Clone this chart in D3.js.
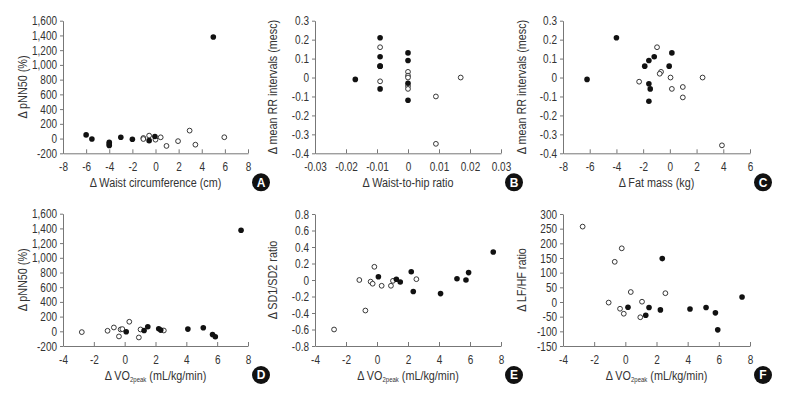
<!DOCTYPE html>
<html>
<head>
<meta charset="utf-8">
<script src="https://cdn.jsdelivr.net/npm/d3@7"></script>
<style>
  html, body { margin: 0; padding: 0; background: #fff; }
  svg text { font-family: "Liberation Sans", Arial, sans-serif; }
</style>
</head>
<body>
<svg id="chart" width="797" height="394"></svg>
<script>
// ---- data ----
// A: waist circumference (cm) vs pNN50 (%)
const waistFilled = [[-6, 50], [-5.5, -5], [-4, -50], [-4, -75], [-4, -95], [-3, 17], [-2, -10], [-0.55, -28], [-0.05, 28], [5, 1378]]
const waistOpen = [[-1.05, 8], [-1.05, -6], [-0.55, 40], [0, -15], [0.45, 17], [0.95, -100], [1.95, -35], [2.95, 108], [3.45, -83], [5.95, 18]]
// B: waist-to-hip ratio vs mean RR intervals
const whrFilled = [[-0.017, -0.01], [-0.009, 0.21], [-0.009, 0.11], [-0.009, 0.06], [-0.009, 0.06], [-0.009, -0.06], [0, 0.13], [0, 0.09], [0, -0.03], [0, -0.12]]
const whrOpen = [[-0.009, 0.16], [-0.009, -0.02], [0, 0.03], [0, 0.01], [0, 0.0], [0, -0.045], [0, -0.06], [0.009, -0.10], [0.009, -0.35], [0.017, 0.0]]
// C: fat mass (kg) vs mean RR intervals
const fatFilled = [[-6.2, -0.01], [-4.0, 0.21], [0.15, 0.13], [-1.17, 0.11], [-1.57, 0.09], [-1.88, 0.06], [-0.05, 0.06], [-1.57, -0.033], [-1.47, -0.06], [-1.57, -0.125]]
const fatOpen = [[-0.96, 0.16], [-0.66, 0.03], [-0.76, 0.02], [-2.3, -0.022], [0.05, 0.0], [0.15, -0.06], [0.97, -0.05], [0.97, -0.105], [2.45, 0.0], [3.9, -0.358]]
// D: VO2peak vs pNN50 (%)
const vo2pnnFilled = [[0.1, -7], [1.26, 11], [1.5, 61], [2.21, 34], [2.34, 16], [4.1, 30], [5.1, 48], [5.7, -43], [5.88, -75], [7.55, 1375]]
const vo2pnnOpen = [[-2.78, -11], [-1.11, 7], [-0.7, 52], [-0.37, -70], [-0.26, 25], [-0.15, 30], [0.3, 130], [0.92, -84], [1.03, 25], [2.54, 11]]
// E: VO2peak vs SD1/SD2 ratio
const vo2sdFilled = [[0.09, 0.04], [1.25, 0.01], [1.5, -0.025], [2.21, 0.10], [2.34, -0.14], [4.1, -0.165], [5.16, 0.016], [5.74, 0.0], [5.91, 0.09], [7.5, 0.34]]
const vo2sdOpen = [[-2.77, -0.6], [-1.14, 0.0], [-0.75, -0.37], [-0.41, -0.02], [-0.28, -0.045], [-0.17, 0.16], [0.3, -0.07], [0.9, -0.07], [1.03, -0.01], [2.54, 0.01]]
// F: VO2peak vs LF/HF ratio
const vo2lfFilled = [[0.17, -18], [1.31, -45], [1.52, -19], [2.25, -27], [2.37, 148], [4.15, -24], [5.18, -19], [5.78, -37], [5.93, -95], [7.49, 17]]
const vo2lfOpen = [[-2.74, 257], [-1.07, -2], [-0.68, 137], [-0.34, -23], [-0.23, 183], [-0.1, -40], [0.35, 34], [0.96, -52], [1.07, 1], [2.57, 30]]

// ---- panel layout ----
const fmt = (d) => d3.format(',')(d).replace('\u2212', '-')
const fmtDec = (d) => String(+d.toFixed(2))

const panels = [
  { letter: 'A', filled: waistFilled, open: waistOpen, xDomain: [-8, 8], xStep: 2, yDomain: [-200, 1600], yStep: 200,
    xRange: [63, 248], yRange: [153.3, 20.7], xFmt: fmt, yFmt: fmt, xLabel: '\u0394 Waist circumference (cm)', yLabel: '\u0394 pNN50 (%)', yLabelX: 27 },
  { letter: 'B', filled: whrFilled, open: whrOpen, xDomain: [-0.03, 0.03], xStep: 0.01, yDomain: [-0.4, 0.3], yStep: 0.1,
    xRange: [315, 501], yRange: [153.3, 20.7], xFmt: fmtDec, yFmt: fmtDec, xLabel: '\u0394 Waist-to-hip ratio', yLabel: '\u0394 mean RR intervals (mesc)', yLabelX: 277 },
  { letter: 'C', filled: fatFilled, open: fatOpen, xDomain: [-8, 6], xStep: 2, yDomain: [-0.4, 0.3], yStep: 0.1,
    xRange: [563, 750], yRange: [153.3, 20.7], xFmt: fmt, yFmt: fmtDec, xLabel: '\u0394 Fat mass (kg)', yLabel: '\u0394 mean RR intervals (mesc)', yLabelX: 526 },
  { letter: 'D', filled: vo2pnnFilled, open: vo2pnnOpen, xDomain: [-4, 8], xStep: 2, yDomain: [-200, 1600], yStep: 200,
    xRange: [63, 248], yRange: [346, 213.7], xFmt: fmt, yFmt: fmt, xLabel: 'vo2', yLabel: '\u0394 pNN50 (%)', yLabelX: 27 },
  { letter: 'E', filled: vo2sdFilled, open: vo2sdOpen, xDomain: [-4, 8], xStep: 2, yDomain: [-0.8, 0.8], yStep: 0.2,
    xRange: [315, 501], yRange: [346, 214], xFmt: fmt, yFmt: fmtDec, xLabel: 'vo2', yLabel: '\u0394 SD1/SD2 ratio', yLabelX: 277 },
  { letter: 'F', filled: vo2lfFilled, open: vo2lfOpen, xDomain: [-4, 8], xStep: 2, yDomain: [-150, 300], yStep: 50,
    xRange: [563, 750], yRange: [346, 214], xFmt: fmt, yFmt: fmt, xLabel: 'vo2', yLabel: '\u0394 LF/HF ratio', yLabelX: 526 },
]

const svg = d3.select('#chart')
const textColor = '#333'
const axisColor = '#777'
// the original typeface is a condensed sans; squeeze text horizontally
const narrow = 0.8

function ticksOf(domain, step) {
  const n = Math.round((domain[1] - domain[0]) / step)
  return d3.range(n + 1).map((i) => +(domain[0] + i * step).toFixed(4))
}

panels.forEach((p) => {
  const x = d3.scaleLinear(p.xDomain, p.xRange)
  const y = d3.scaleLinear(p.yDomain, p.yRange)
  const g = svg.append('g')

  // y axis
  const gy = g.append('g')
    .attr('transform', `translate(${p.xRange[0]},0)`)
    .call(d3.axisLeft(y).tickValues(ticksOf(p.yDomain, p.yStep)).tickFormat(p.yFmt)
      .tickSizeInner(3).tickSizeOuter(0).tickPadding(4.5))
  // x axis (ticks point up)
  const gx = g.append('g')
    .attr('transform', `translate(0,${p.yRange[0]})`)
    .call(d3.axisBottom(x).tickValues(ticksOf(p.xDomain, p.xStep)).tickFormat(p.xFmt)
      .tickSizeInner(-4).tickSizeOuter(0).tickPadding(9))
  ;[gx, gy].forEach((a) => {
    a.select('.domain').attr('stroke', axisColor)
    a.selectAll('.tick line').attr('stroke', axisColor)
    a.selectAll('.tick text')
      .attr('fill', textColor)
      .attr('font-size', 12.5)
      .attr('transform', `scale(${narrow},1)`)
  })

  // x label
  const xc = (p.xRange[0] + p.xRange[1]) / 2
  const xl = g.append('text')
    .attr('transform', `translate(${xc},${p.yRange[0] + 34}) scale(${narrow},1)`)
    .attr('text-anchor', 'middle')
    .attr('fill', textColor)
    .attr('font-size', 13.5)
  if (p.xLabel === 'vo2') {
    xl.append('tspan').text('\u0394 VO')
    xl.append('tspan').attr('font-size', 7.5).attr('dy', 2).text('2peak')
    xl.append('tspan').attr('dy', -2).text(' (mL/kg/min)')
  } else {
    xl.text(p.xLabel)
  }

  // y label
  const yc = (p.yRange[0] + p.yRange[1]) / 2
  g.append('text')
    .attr('transform', `translate(${p.yLabelX},${yc}) rotate(-90) scale(${narrow},1)`)
    .attr('text-anchor', 'middle')
    .attr('fill', textColor)
    .attr('font-size', 13.5)
    .text(p.yLabel)

  // points
  g.append('g').selectAll('circle')
    .data(p.open)
    .join('circle')
    .attr('cx', (d) => x(d[0]))
    .attr('cy', (d) => y(d[1]))
    .attr('r', 2.4)
    .attr('fill', '#fff')
    .attr('stroke', '#222')
    .attr('stroke-width', 0.9)
  g.append('g').selectAll('circle')
    .data(p.filled)
    .join('circle')
    .attr('cx', (d) => x(d[0]))
    .attr('cy', (d) => y(d[1]))
    .attr('r', 2.8)
    .attr('fill', '#111')

  // panel letter badge
  const bx = p.xRange[1] + 13
  const by = p.yRange[0] + 29
  g.append('circle').attr('cx', bx).attr('cy', by).attr('r', 9).attr('fill', '#111')
  g.append('text')
    .attr('x', bx)
    .attr('y', by)
    .attr('dy', '0.36em')
    .attr('text-anchor', 'middle')
    .attr('fill', '#fff')
    .attr('font-weight', 'bold')
    .attr('font-size', 12)
    .text(p.letter)
})
</script>
</body>
</html>
